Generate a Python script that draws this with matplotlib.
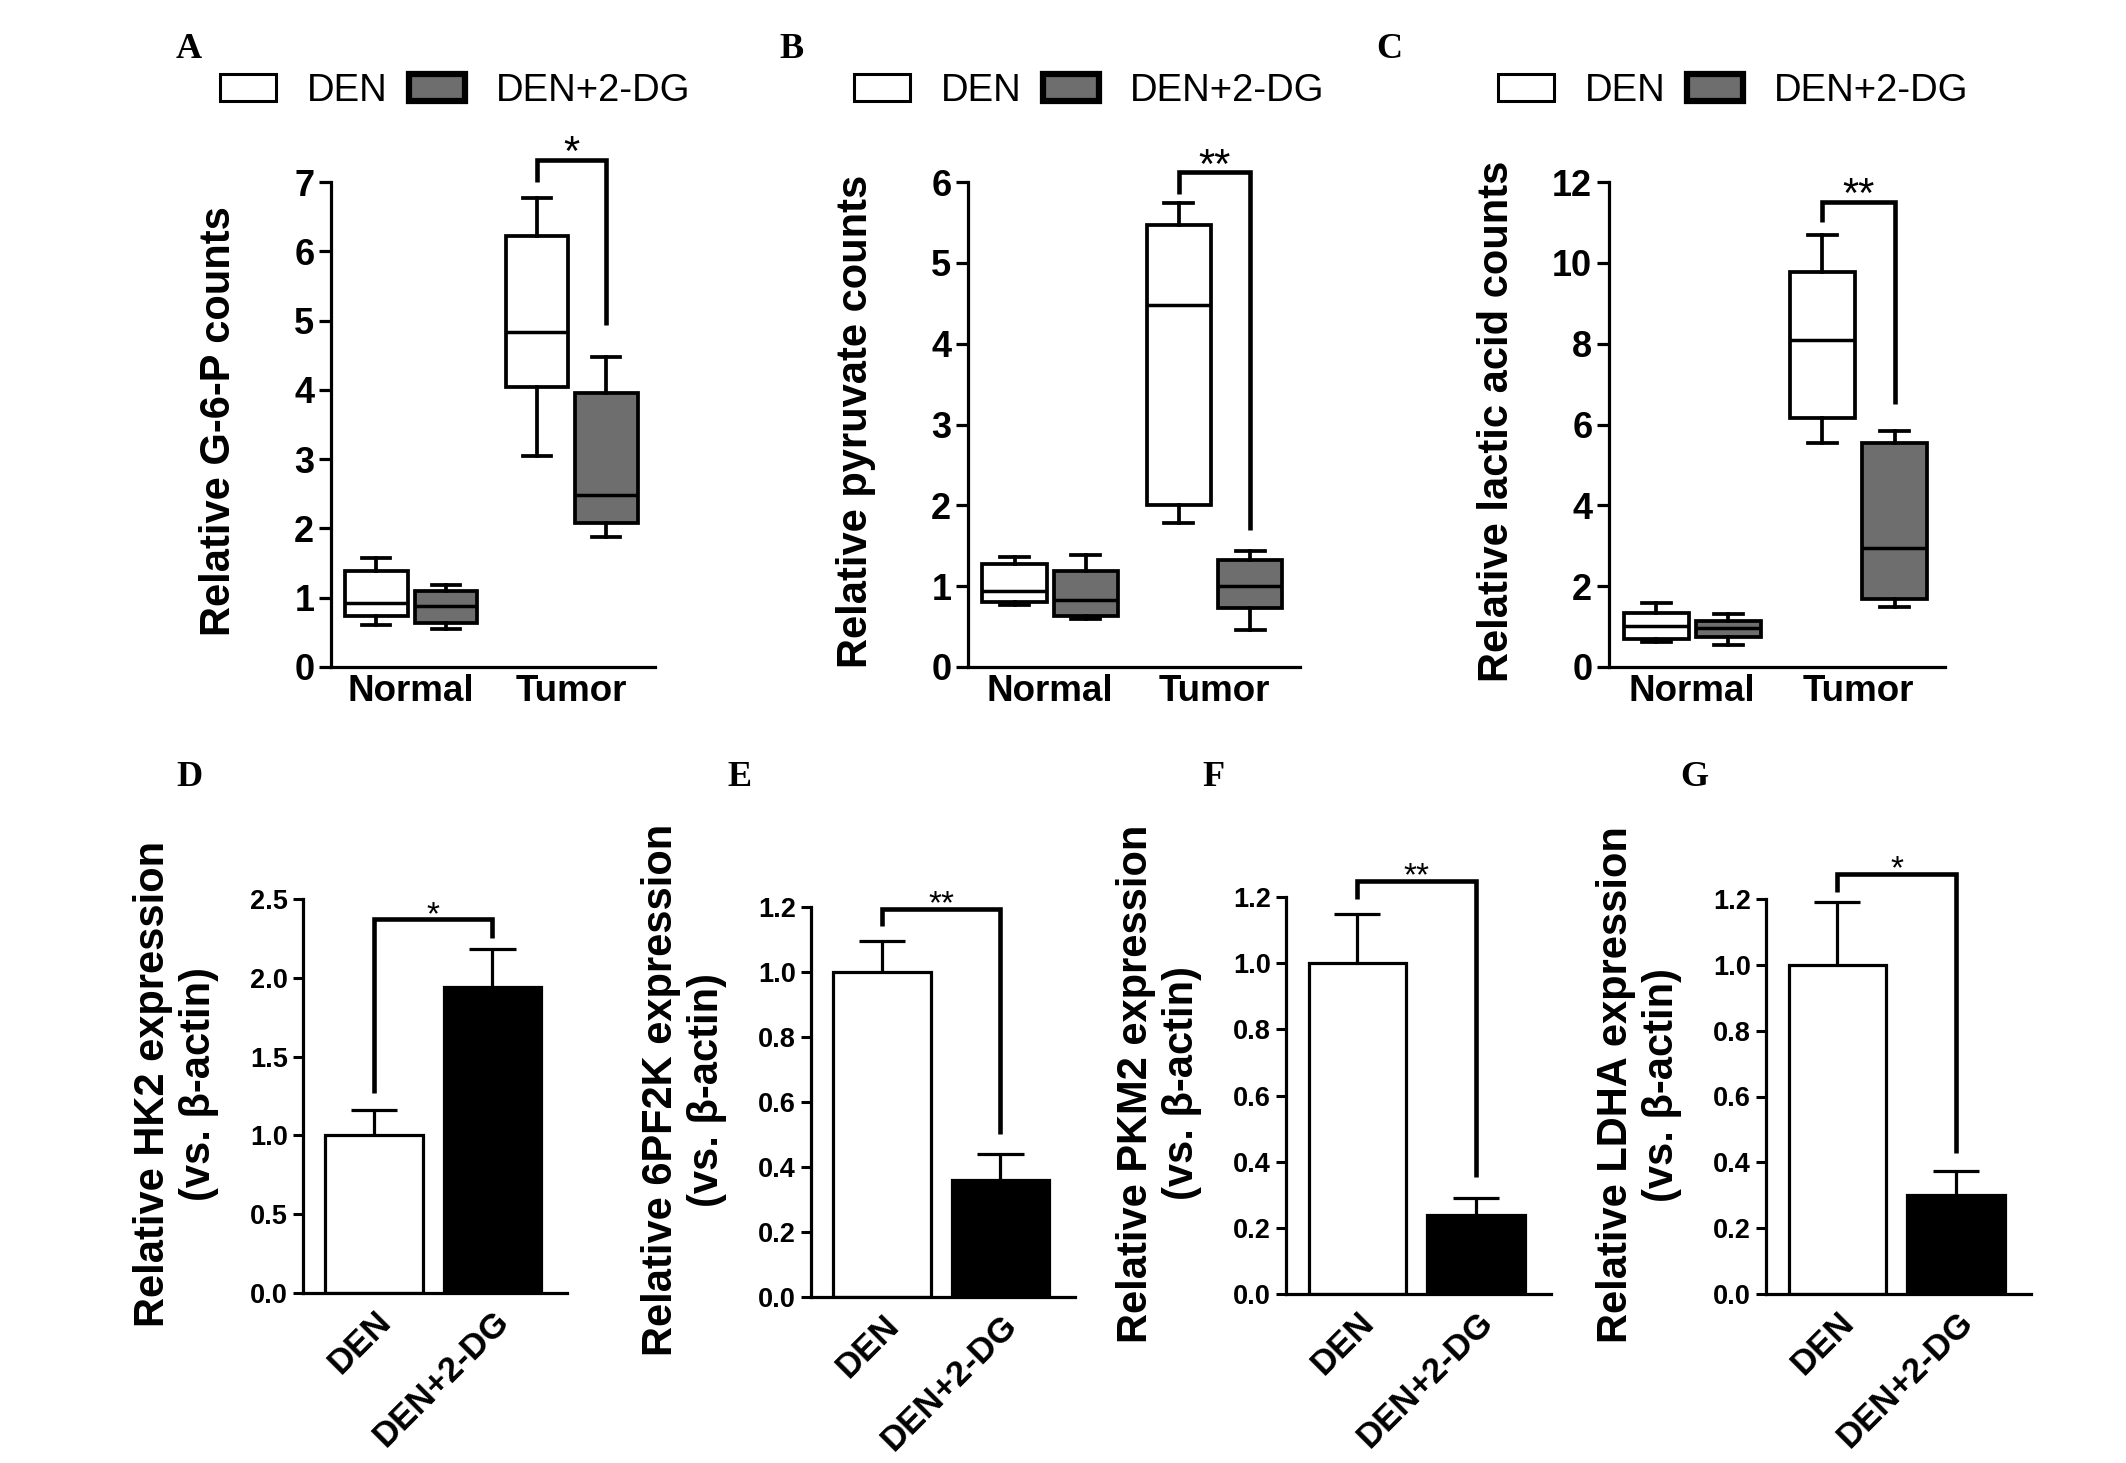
import matplotlib.pyplot as plt
from matplotlib.patches import Patch
from matplotlib.ticker import FormatStrFormatter
import numpy as np

plt.rcParams['font.family'] = ['Liberation Sans', 'DejaVu Sans']

W, H = 2126, 1463
GRAY = '#6e6e6e'

groups = ['Normal', 'Tumor']
series = ['DEN', 'DEN+2-DG']

### Box plots: [whisker low, q1, median, q3, whisker high] for Normal, Tumor
g6p_den = [[0.60, 0.74, 0.92, 1.39, 1.57], [3.05, 4.04, 4.83, 6.22, 6.77]]
g6p_dg = [[0.55, 0.63, 0.88, 1.10, 1.18], [1.87, 2.08, 2.48, 3.95, 4.47]]
pyr_den = [[0.77, 0.80, 0.94, 1.27, 1.36], [1.78, 2.00, 4.48, 5.47, 5.74]]
pyr_dg = [[0.60, 0.63, 0.83, 1.19, 1.38], [0.46, 0.73, 1.00, 1.32, 1.44]]
lac_den = [[0.63, 0.69, 1.01, 1.34, 1.58], [5.54, 6.17, 8.08, 9.77, 10.68]]
lac_dg = [[0.54, 0.74, 0.97, 1.14, 1.31], [1.49, 1.68, 2.95, 5.54, 5.83]]

### Bar plots: mean and SEM for DEN, DEN+2-DG
hk2_mean, hk2_sem = [1.00, 1.94], [0.16, 0.24]
pf2k_mean, pf2k_sem = [1.00, 0.36], [0.095, 0.08]
pkm2_mean, pkm2_sem = [1.00, 0.24], [0.15, 0.05]
ldha_mean, ldha_sem = [1.00, 0.30], [0.19, 0.075]

### Significance brackets: [top, left leg end, right leg end]
g6p_sig, pyr_sig, lac_sig = [7.32, 7.0, 4.93], [6.12, 5.85, 1.69], [11.51, 11.0, 6.5]
hk2_sig, pf2k_sig = [2.37, 1.27, 2.25], [1.195, 1.142, 0.503]
pkm2_sig, ldha_sig = [1.249, 1.194, 0.355], [1.276, 1.221, 0.428]


def rect(left, right, top, bottom):
    return [left / W, 1 - bottom / H, (right - left) / W, (bottom - top) / H]


fig = plt.figure(figsize=(W / 100, H / 100), dpi=100)


def bracket(ax, x1, x2, sig, stars, size, off):
    ax.plot([x1, x1, x2, x2], [sig[1], sig[0], sig[0], sig[2]], color='black',
            lw=3.3, clip_on=False, solid_joinstyle='miter', solid_capstyle='butt')
    ax.annotate(stars, xy=((x1 + x2) / 2, sig[0]), xytext=(0, off), textcoords='offset points',
                ha='center', va='baseline', fontsize=size, annotation_clip=False)


def box_panel(r, den, dg, ymax, ystep, ylabel, sig, stars, leg_x, letter, letter_x):
    ax = fig.add_axes(r)
    off = 0.217
    stats, pos, cols = [], [], []
    for i in range(2):
        for s, o, c in ((den[i], -off, 'white'), (dg[i], off, GRAY)):
            stats.append(dict(whislo=s[0], q1=s[1], med=s[2], q3=s[3], whishi=s[4], fliers=[]))
            pos.append(i + o)
            cols.append(c)
    bp = ax.bxp(stats, positions=pos, widths=0.39, capwidths=0.175, patch_artist=True,
                manage_ticks=False, showfliers=False,
                boxprops=dict(linewidth=2.7, edgecolor='black'),
                whiskerprops=dict(linewidth=2.7, color='black'),
                capprops=dict(linewidth=2.7, color='black'),
                medianprops=dict(linewidth=2.5, color='black'))
    for b, c in zip(bp['boxes'], cols):
        b.set_facecolor(c)
    ax.set_xlim(-0.5, 1.52)
    ax.set_ylim(0, ymax)
    ax.set_yticks(np.arange(0, ymax + 0.01, ystep))
    ax.set_xticks([0, 1])
    ax.set_xticklabels(groups, fontsize=26.5, fontweight='bold')
    for t in ax.get_yticklabels():
        t.set_fontweight('bold')
    ax.tick_params(axis='y', labelsize=26, width=2.3, length=9, pad=3)
    ax.tick_params(axis='x', length=0, pad=5)
    for sp in ['top', 'right']:
        ax.spines[sp].set_visible(False)
    for sp in ['left', 'bottom']:
        ax.spines[sp].set_linewidth(2.3)
    bracket(ax, 1 - off, 1 + off, sig, stars, 30, -4)
    left_px = r[0] * W
    fig.text((left_px - 92) / W, 1 - 421 / H, ylabel, rotation=90, ha='right', va='center',
             fontsize=30, fontweight='bold')
    handles = [Patch(facecolor='white', edgecolor='black', linewidth=2.2),
               Patch(facecolor=GRAY, edgecolor='black', linewidth=4.5)]
    fig.legend(handles, series, loc='center left', bbox_to_anchor=(leg_x / W, 1 - 91 / H),
               ncol=2, frameon=False, fontsize=27.5, handlelength=1.47, handleheight=0.72,
               handletextpad=0.8, columnspacing=0.56, borderpad=0, borderaxespad=0)
    fig.text(letter_x / W, 1 - 58 / H, letter, ha='center', va='baseline',
             fontfamily='Liberation Serif', fontweight='bold', fontsize=26)
    return ax


def bar_panel(r, means, sems, ylabel, ymax, ystep, fmt, sig, stars, letter, letter_x):
    ax = fig.add_axes(r)
    x = np.arange(2)
    tops = [m + s for m, s in zip(means, sems)]
    ax.vlines(x, means, tops, color='black', lw=2.3, zorder=1)
    ax.hlines(tops, x - 0.195, x + 0.195, color='black', lw=2.3, zorder=1)
    ax.bar(x, means, width=0.82, color=['white', 'black'], edgecolor='black', linewidth=2.3, zorder=2)
    ax.set_xlim(-0.6, 1.63)
    ax.set_ylim(0, ymax)
    ax.set_yticks(np.arange(0, ymax + 0.001, ystep))
    ax.yaxis.set_major_formatter(FormatStrFormatter(fmt))
    ax.set_xticks(x)
    ax.set_xticklabels(series, fontsize=25, fontweight='bold', rotation=45, ha='right',
                       va='top', rotation_mode='anchor')
    for t in ax.get_yticklabels():
        t.set_fontweight('bold')
    ax.tick_params(axis='y', labelsize=19.5, width=2.2, length=7, pad=4)
    ax.tick_params(axis='x', length=0, pad=8)
    for sp in ['top', 'right']:
        ax.spines[sp].set_visible(False)
    for sp in ['left', 'bottom']:
        ax.spines[sp].set_linewidth(2.3)
    bracket(ax, 0, 1, sig, stars, 24, -3.2)
    left_px = r[0] * W
    cy = (1 - r[1] - r[3] / 2) * H - 12
    fig.text((left_px - 84) / W, 1 - cy / H, ylabel, rotation=90, ha='right', va='center',
             fontsize=30, fontweight='bold', multialignment='center')
    fig.text(letter_x / W, 1 - 786 / H, letter, ha='center', va='baseline',
             fontfamily='Liberation Serif', fontweight='bold', fontsize=26)
    return ax


box_panel(rect(331, 655, 182, 667), g6p_den, g6p_dg, 7, 1, 'Relative G-6-P counts',
          g6p_sig, '*', 220, 'A', 189)
box_panel(rect(968, 1300, 182, 667), pyr_den, pyr_dg, 6, 1, 'Relative pyruvate counts',
          pyr_sig, '**', 854, 'B', 792)
box_panel(rect(1609, 1945, 182, 667), lac_den, lac_dg, 12, 2, 'Relative lactic acid counts',
          lac_sig, '**', 1498, 'C', 1389)

bar_panel(rect(303, 567, 899, 1293), hk2_mean, hk2_sem,
          'Relative HK2 expression\n(vs. \u03b2-actin)', 2.5, 0.5, '%.1f', hk2_sig, '*', 'D', 189)
bar_panel(rect(811, 1075, 907, 1297), pf2k_mean, pf2k_sem,
          'Relative 6PF2K expression\n(vs. \u03b2-actin)', 1.2, 0.2, '%.1f', pf2k_sig, '**', 'E', 740)
bar_panel(rect(1286, 1551, 897, 1294), pkm2_mean, pkm2_sem,
          'Relative PKM2 expression\n(vs. \u03b2-actin)', 1.2, 0.2, '%.1f', pkm2_sig, '**', 'F', 1213)
bar_panel(rect(1766, 2031, 899, 1294), ldha_mean, ldha_sem,
          'Relative LDHA expression\n(vs. \u03b2-actin)', 1.2, 0.2, '%.1f', ldha_sig, '*', 'G', 1694)

fig.savefig('out.png', dpi=100)
